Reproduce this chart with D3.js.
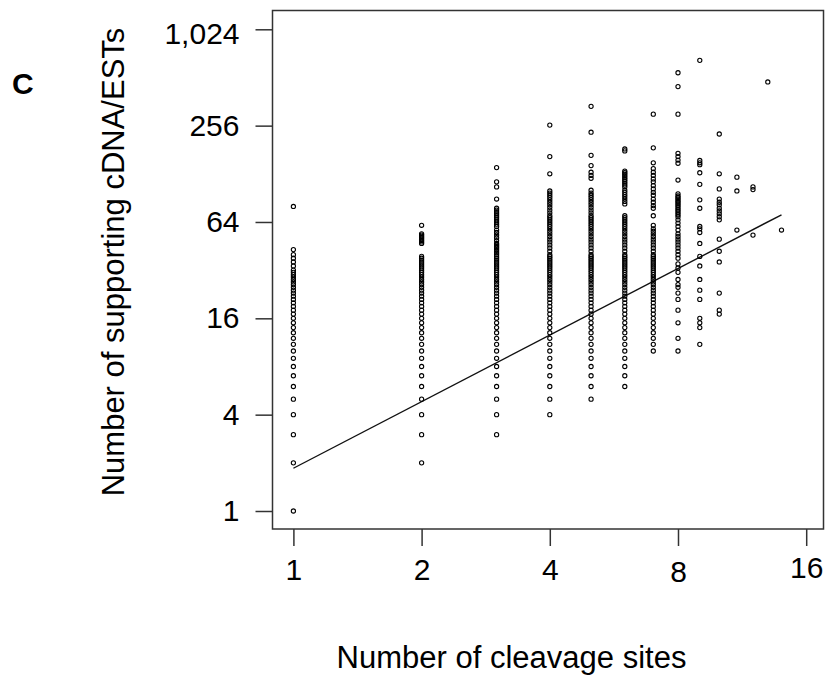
<!DOCTYPE html>
<html>
<head>
<meta charset="utf-8">
<script src="https://cdn.jsdelivr.net/npm/d3@7"></script>
<style>
  body { margin: 0; background: #fff; }
  text { font-family: Arial, "Liberation Sans", Helvetica, sans-serif; fill: #000; }
</style>
</head>
<body>
<svg id="chart" width="826" height="679"></svg>
<script>
// Number of cleavage sites per gene (x) and the distinct counts of
// supporting cDNA/ESTs observed for genes with that many sites (y).
const cleavageSites = [1, 2, 3, 4, 5, 6, 7, 8, 9, 10, 11, 12, 13, 14];

const sites1 = [1,2,3,4,5,6,7,8,9,10,11,12,13,14,15,16,17,18,19,20,21,22,23,24,25,26,27,28,29,30,31,32,34,36,38,40,43,80];
const sites2 = [2,3,4,5,6,7,8,9,10,11,12,13,14,15,16,17,18,19,20,21,22,23,24,25,26,27,28,29,30,31,32,33,34,35,36,37,38,39,47,48,49,50,51,52,53,54,61];
const sites3 = [3,4,5,6,7,8,9,10,11,12,13,14,15,16,17,18,19,20,21,22,23,24,25,26,27,28,29,30,31,32,33,34,35,36,37,38,39,40,41,42,43,44,45,46,47,49,51,53,55,57,60,62,64,66,68,70,72,74,76,78,89,106,114,140];
const sites4 = [4,5,6,7,8,9,10,11,12,13,14,15,16,17,18,19,20,21,22,23,24,25,26,27,28,29,30,31,32,33,34,35,36,37,38,39,40,42,44,46,48,50,52,54,56,58,60,62,64,66,68,70,73,76,79,82,85,88,91,94,97,100,128,164,258];
const sites5 = [5,6,7,8,9,10,11,12,13,14,15,16,17,18,19,20,21,22,23,24,25,26,27,28,29,30,31,32,33,34,35,36,37,38,39,40,42,44,46,48,50,52,54,56,58,60,62,64,66,68,70,73,76,79,82,85,88,91,94,97,101,120,125,131,144,167,233,338];
const sites6 = [6,7,8,9,10,11,12,13,14,15,16,17,18,19,20,21,22,23,24,25,26,27,28,29,30,31,32,33,34,35,36,37,38,39,40,42,44,46,48,50,52,54,56,58,60,62,64,66,68,70,83,86,89,92,95,98,101,106,109,112,115,118,121,124,127,130,133,178,183];
const sites7 = [10,11,12,13,14,15,16,17,18,19,20,21,22,23,24,25,26,27,28,29,30,31,32,33,34,35,36,37,38,39,40,42,44,46,48,50,52,54,56,58,61,70,78,81,85,89,94,98,103,108,114,119,125,131,138,150,186,302];
const sites8 = [10,12,15,18,21,23,25,26,28,31,33,35,38,40,42,44,46,48,50,52,54,57,60,63,66,69,71,73,75,77,79,81,83,85,87,89,91,93,96,117,149,156,164,172,302,449,548];
const sites9 = [11,14,15,16,21,24,28,34,39,47,55,58,60,78,88,110,130,146,150,155,655];
const sites10 = [17,18,23,36,42,50,66,69,72,75,78,82,85,89,103,128,227];
const sites11 = [57,100,122];
const sites12 = [53,102,106];
const sites13 = [480];
const sites14 = [57];

const estCounts = [sites1, sites2, sites3, sites4, sites5, sites6, sites7,
                   sites8, sites9, sites10, sites11, sites12, sites13, sites14];

// Fitted power-law trend (log-log regression), endpoints
const fitSites = [1, 14];
const fitCounts = [1.85, 71];

const xTicks = [1, 2, 4, 8, 16];
const yTicks = [1, 4, 16, 64, 256, 1024];

const xLabel = "Number of cleavage sites";
const yLabel = "Number of supporting cDNA/ESTs";
const panelLabel = "C";

// ---- layout ----
const frame = { left: 272.5, top: 10.5, right: 823.5, bottom: 529 };
const svg = d3.select("#chart");

const x = d3.scaleLog().base(2).domain([1, 16]).range([293.4, 806.2]);
const y = d3.scaleLog().base(2).domain([1, 1024]).range([511, 29.3]);

const points = [];
cleavageSites.forEach((s, i) => estCounts[i].forEach(v => points.push({ s, v })));

// plot frame
svg.append("rect")
  .attr("x", frame.left).attr("y", frame.top)
  .attr("width", frame.right - frame.left)
  .attr("height", frame.bottom - frame.top)
  .attr("fill", "none").attr("stroke", "#333").attr("stroke-width", 1.5);

// axes
const xAxis = svg.append("g")
  .attr("transform", `translate(0,${frame.bottom})`)
  .call(d3.axisBottom(x).tickValues(xTicks).tickFormat(d3.format("d"))
        .tickSize(17).tickPadding(13));
const yAxis = svg.append("g")
  .attr("transform", `translate(${frame.left},0)`)
  .call(d3.axisLeft(y).tickValues(yTicks).tickFormat(d3.format(","))
        .tickSize(17).tickPadding(16));

[xAxis, yAxis].forEach(g => {
  g.select(".domain").remove();
  g.selectAll(".tick line").attr("stroke", "#333").attr("stroke-width", 1.5);
  g.selectAll(".tick text")
    .attr("fill", "#000")
    .style("font-size", "30px")
    .style("font-family", "Arial, 'Liberation Sans', Helvetica, sans-serif");
});
yAxis.selectAll(".tick text").filter(d => d === 1024).attr("dy", "0.47em");
xAxis.selectAll(".tick text").filter(d => d === 8).attr("dy", "0.78em");
xAxis.selectAll(".tick text").filter(d => d === 16).attr("dy", "0.64em");

// trend line
svg.append("path")
  .datum(fitSites.map((s, i) => [s, fitCounts[i]]))
  .attr("d", d3.line().x(d => x(d[0])).y(d => y(d[1])))
  .attr("fill", "none").attr("stroke", "#111").attr("stroke-width", 1.4);

// data points
svg.append("g").selectAll("circle")
  .data(points)
  .join("circle")
  .attr("cx", d => x(d.s))
  .attr("cy", d => y(d.v))
  .attr("r", 2.1)
  .attr("fill", "none")
  .attr("stroke", "#000")
  .attr("stroke-width", 1.1);

// titles
svg.append("text")
  .attr("x", 511.5).attr("y", 668.3)
  .attr("text-anchor", "middle")
  .style("font-size", "31px")
  .text(xLabel);

svg.append("text")
  .attr("transform", "translate(124,262) rotate(-90)")
  .attr("text-anchor", "middle")
  .style("font-size", "31px")
  .text(yLabel);

svg.append("text")
  .attr("x", 12).attr("y", 94)
  .style("font-size", "30px").style("font-weight", "bold")
  .text(panelLabel);
</script>
</body>
</html>
